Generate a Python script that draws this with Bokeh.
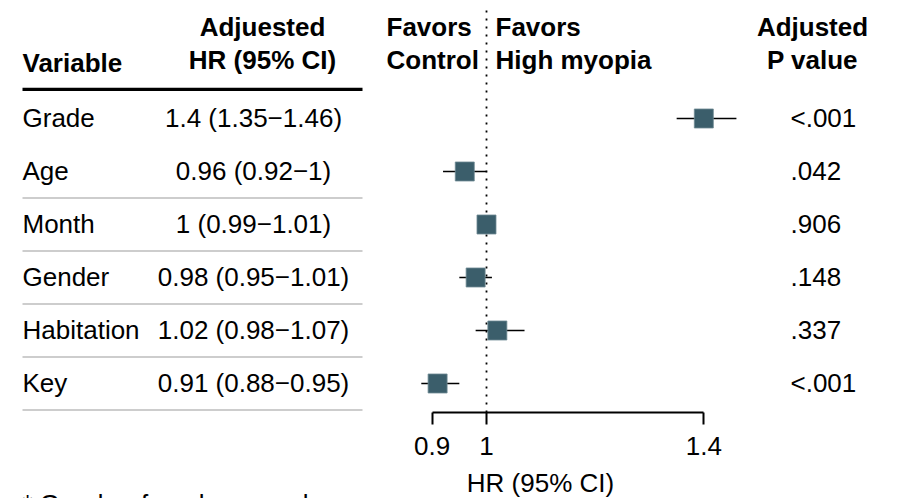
from bokeh.plotting import figure
from bokeh.layouts import column
from bokeh.models import Range1d, LinearAxis, FixedTicker, ColumnDataSource
from bokeh.core.properties import value
from bokeh.embed import file_html
from bokeh.resources import INLINE

# ---- data ----
variables = ["Grade", "Age", "Month", "Gender", "Habitation", "Key"]
hr = [1.4, 0.96, 1.0, 0.98, 1.02, 0.91]
lower = [1.35, 0.92, 0.99, 0.95, 0.98, 0.88]
upper = [1.46, 1.00, 1.01, 1.01, 1.07, 0.95]
pvals = ["<.001", ".042", ".906", ".148", ".337", "<.001"]
ticks = [0.9, 1.0, 1.4]
tick_labels = {0.9: "0.9", 1.0: "1", 1.4: "1.4"}
ref_value = 1.0
axis_title = "HR (95% CI)"
footnote = "* Gender: female vs. male"

hr_text = [f"{h:g} ({l:g}\u2212{u:g})" for h, l, u in zip(hr, lower, upper)]
rows = list(range(len(variables), 0, -1))  # 6..1

FONT = "Liberation Sans"
FS = "26px"
W = 902
H1 = 462          # main figure (frame 412 + axis panel 50)
H2 = 498 - H1     # strip below for axis title / footnote
Y0, Y1 = 0.4528, 8.2264

p = figure(width=W, height=H1, output_backend="svg", toolbar_location=None,
           x_range=Range1d(0.10547, 1.76569), y_range=Range1d(Y0, Y1),
           min_border_left=0, min_border_right=0, min_border_top=0,
           min_border_bottom=H1 - 412, x_axis_location=None, y_axis_location=None)
p.outline_line_color = None
p.xgrid.visible = False
p.ygrid.visible = False
p.background_fill_color = "white"
p.border_fill_color = "white"
p.extra_x_ranges = {"tbl": Range1d(0, W)}

src = ColumnDataSource(dict(var=variables, hr=hr, lo=lower, hi=upper, p=pvals,
                            hrt=hr_text, y=rows))

# table lines
p.segment(x0=22, x1=362, y0=6.55, y1=6.55, line_width=3.2, line_color="black",
          x_range_name="tbl")
sep_y = [r - 0.5 for r in rows[1:]]
p.segment(x0=[22] * len(sep_y), x1=[362] * len(sep_y), y0=sep_y, y1=sep_y,
          line_width=1.5, line_color="#bdbdbd", x_range_name="tbl")

# reference line (dotted)
p.segment(x0=[ref_value], x1=[ref_value], y0=[Y0], y1=[Y1 - 10 / 53],
          line_dash="2 6", line_width=1.8, line_color="black")

# CI + points
p.segment(x0="lo", x1="hi", y0="y", y1="y", source=src, line_width=1.6, line_color="black")
p.scatter(x="hr", y="y", source=src, marker="square", size=19,
          fill_color="#3b5e6b", line_color="#6f8a93", line_width=0.8)

# row texts
common = dict(text_font=value(FONT), text_font_size=FS, text_color="black",
              text_baseline="middle", x_range_name="tbl")
p.text(x=22, y="y", text="var", source=src, text_align="left", **common)
p.text(x=253, y="y", text="hrt", source=src, text_align="center", **common)
p.text(x=790, y="y", text="p", source=src, text_align="left", **common)

# headers
hdr = dict(text_font=value(FONT), text_font_size=FS, text_font_style="bold",
           text_color="black", text_baseline="middle", x_range_name="tbl")
y1, y2 = 7.726, 7.113
p.text(x=[22], y=[7.038], text=["Variable"], text_align="left", **hdr)
p.text(x=[262, 262], y=[y1, y2], text=["Adjuested", "HR (95% CI)"], text_align="center", **hdr)
p.text(x=[386, 386], y=[y1, y2], text=["Favors", "Control"], text_align="left", **hdr)
p.text(x=[495, 495], y=[y1, y2], text=["Favors", "High myopia"], text_align="left", **hdr)
p.text(x=[812, 812], y=[y1, y2], text=["Adjusted", "P value"], text_align="center", **hdr)

# axis
ax = LinearAxis(ticker=FixedTicker(ticks=ticks), bounds=(0.9, 1.4))
ax.major_label_overrides = tick_labels
ax.axis_line_width = 2
ax.major_tick_line_width = 2
ax.major_tick_in = 0
ax.major_tick_out = 12
ax.minor_tick_in = 0
ax.minor_tick_out = 0
ax.major_label_standoff = 12
ax.major_label_text_font = FONT
ax.major_label_text_font_size = FS
ax.major_label_text_color = "black"
p.add_layout(ax, "below")

# strip below: axis title and footnote (y measured downward in px)
q = figure(width=W, height=H2, output_backend="svg", toolbar_location=None,
           x_range=Range1d(0, W), y_range=Range1d(H2, 0),
           min_border=0, x_axis_location=None, y_axis_location=None)
q.outline_line_color = None
q.xgrid.visible = False
q.ygrid.visible = False
q.border_fill_color = "white"
q.text(x=[540], y=[20], text=[axis_title], text_font=value(FONT), text_font_size=FS,
       text_align="center", text_baseline="middle", text_color="black")
q.text(x=[22], y=[26], text=[footnote], text_font=value(FONT), text_font_size=FS,
       text_align="left", text_baseline="top", text_color="black")

layout = column(p, q, spacing=0)
open("out.html", "w").write(file_html(layout, INLINE))
